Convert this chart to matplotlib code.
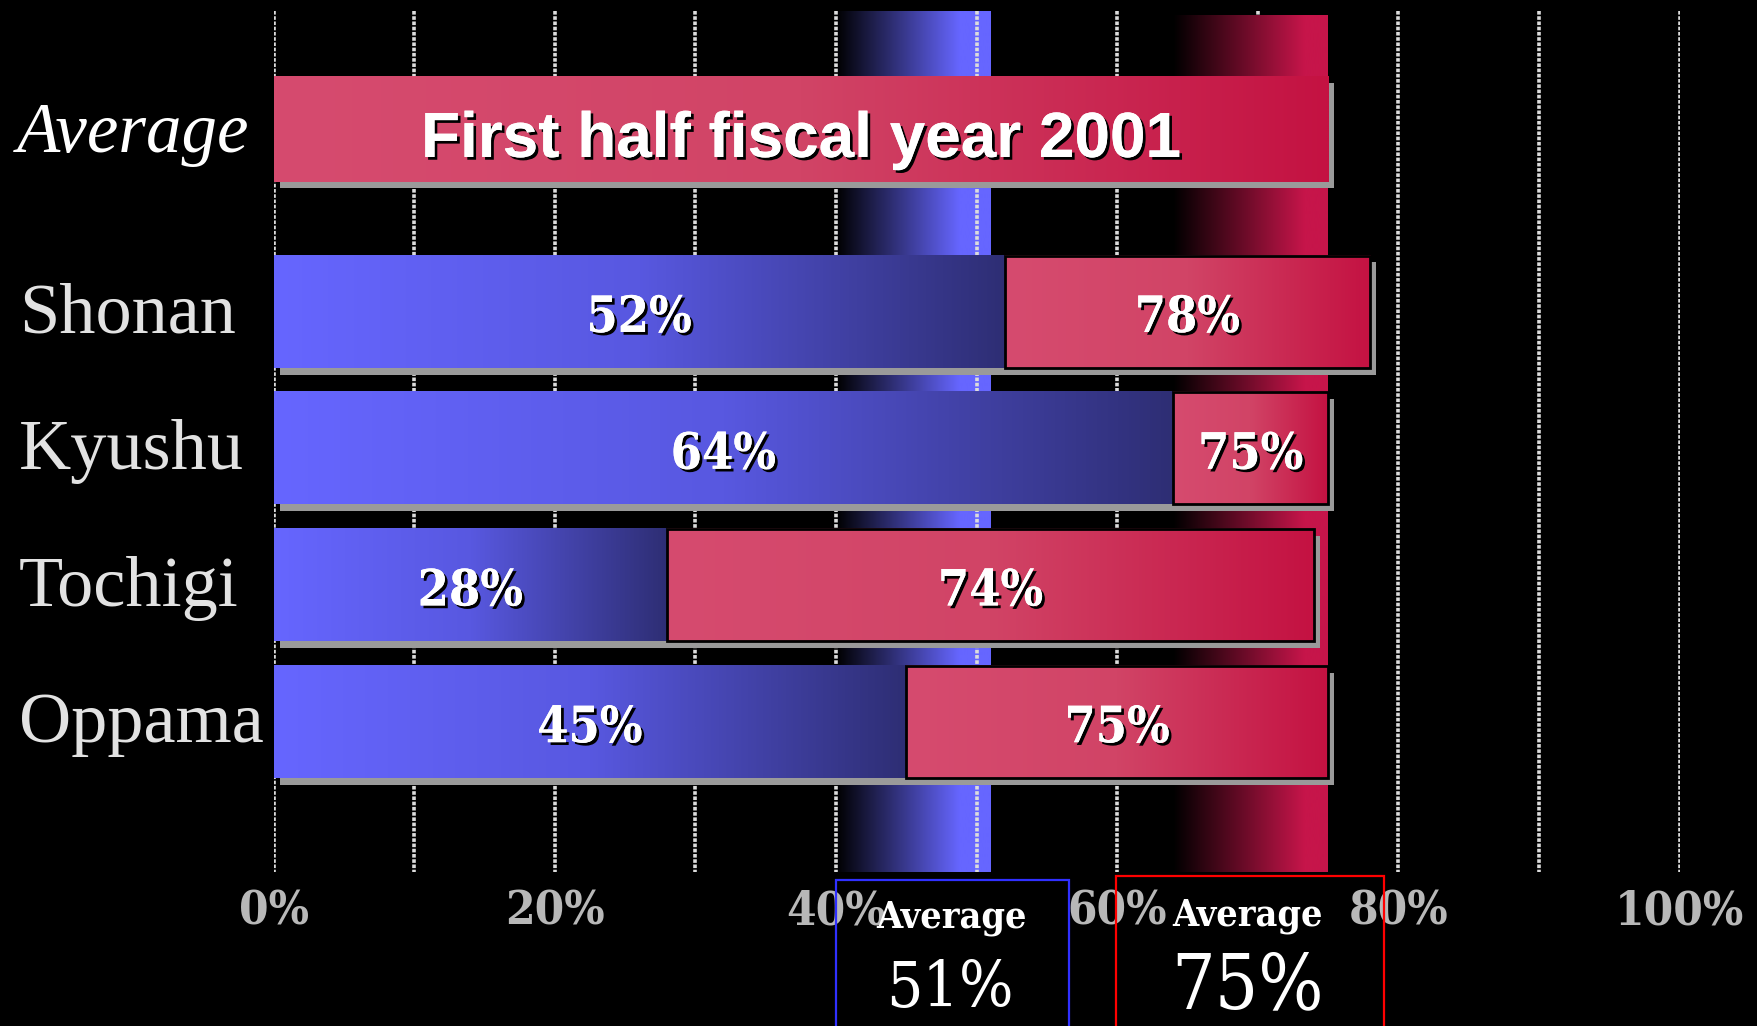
import numpy as np
import matplotlib
matplotlib.use("Agg")
import matplotlib.pyplot as plt
from matplotlib.colors import LinearSegmentedColormap
from matplotlib.patches import Rectangle
import matplotlib.patheffects as pe
import matplotlib.transforms as mtransforms

# ---- data ----
plants = ["Shonan", "Kyushu", "Tochigi", "Oppama"]
blue_vals = [52, 64, 28, 45]
red_vals = [78, 75, 74, 75]
avg_blue = 51
avg_red = 75
avg_label = "Average"
title_text = "First half fiscal year 2001"
tick_vals = [0, 20, 40, 60, 80, 100]
tick_labels = ["0%", "20%", "40%", "60%", "80%", "100%"]

# ---- figure / axes ----
W, H = 1758, 1026
fig = plt.figure(figsize=(W / 100, H / 100), dpi=100, facecolor="black")
ax = fig.add_axes([273.6 / W, 1 - 872 / H, 1406 / W, (872 - 11.2) / H])
ax.set_facecolor("black")

Y_TOP, Y_BOT = -0.861, 5.434
avg_y = 0.0
row_y = [1.336 + i for i in range(len(plants))]
bar_h = 0.82
avg_h = 0.77
sdx, sdy = 0.43, 0.05          # drop-shadow offset (x in %, y in row units)

SERIF_C = dict(family="DejaVu Serif", stretch="condensed")

blue_bar_cmap = LinearSegmentedColormap.from_list("bb", ["#6666ff", "#5858e0", "#2e2e74"])
red_bar_cmap = LinearSegmentedColormap.from_list("rb", ["#d64b6f", "#d14466", "#c41242"])
blue_band_cmap = LinearSegmentedColormap.from_list(
    "bband", [(0, "#000000"), (0.8, "#6666ff"), (1, "#6666ff")])
red_band_cmap = LinearSegmentedColormap.from_list(
    "rband", [(0, "#000000"), (0.85, "#c6154a"), (1, "#c6154a")])

grad = np.linspace(0, 1, 512).reshape(1, -1)


def hgrad(x0, x1, y0, y1, cmap, z):
    ax.imshow(grad, cmap=cmap, extent=[x0, x1, y1, y0], aspect="auto",
              interpolation="bilinear", zorder=z)


def shadow(x0, x1, yc, h):
    ax.add_patch(Rectangle((x0 + sdx, yc - h / 2 + sdy), x1 - x0, h,
                           facecolor="#9a9a9a", edgecolor="none", zorder=4))


label_fx = [pe.withSimplePatchShadow(offset=(2, -2), shadow_rgbFace="black", alpha=1.0),
            pe.Normal()]

# average bands behind the bars
hgrad(avg_blue - 11, avg_blue, Y_TOP, Y_BOT, blue_band_cmap, 1)
hgrad(avg_red - 11, avg_red, Y_TOP + 0.03, Y_BOT, red_band_cmap, 3)

# dotted vertical gridlines
ax.vlines(np.arange(0, 101, 10), Y_TOP, Y_BOT, colors="#dcdcdc",
          linestyles=(0, (1.0, 0.45)), linewidth=2.6, zorder=2)

# overall average bar
shadow(0, avg_red, avg_y, avg_h)
hgrad(0, avg_red, avg_y - avg_h / 2, avg_y + avg_h / 2, red_bar_cmap, 5)
ax.text(avg_red / 2, avg_y + 0.205, title_text, ha="center", va="baseline",
        color="white", fontsize=46, fontweight="bold", family="Liberation Sans",
        path_effects=label_fx, zorder=8)

# per-plant stacked bars
for y, b, r in zip(row_y, blue_vals, red_vals):
    shadow(0, b, y, bar_h)
    shadow(b, r, y, bar_h)
    hgrad(0, b, y - bar_h / 2, y + bar_h / 2, blue_bar_cmap, 5)
    hgrad(b, r, y - bar_h / 2, y + bar_h / 2, red_bar_cmap, 5)
    ax.add_patch(Rectangle((b, y - bar_h / 2), r - b, bar_h, fill=False,
                           edgecolor="black", linewidth=2, zorder=6))
    ax.text(b / 2, y + 0.05, f"{b}%", ha="center", va="center", color="white",
            fontsize=36, fontweight="bold", path_effects=label_fx, zorder=8, **SERIF_C)
    ax.text((b + r) / 2, y + 0.05, f"{r}%", ha="center", va="center", color="white",
            fontsize=36, fontweight="bold", path_effects=label_fx, zorder=8, **SERIF_C)

# row labels on the left
lab_tr = mtransforms.blended_transform_factory(fig.transFigure, ax.transData)
ax.text(17 / W, avg_y + 0.17, avg_label, transform=lab_tr, ha="left", va="baseline",
        color="white", fontsize=51, fontstyle="italic", family="Liberation Serif",
        clip_on=False)
for y, name in zip(row_y, plants):
    ax.text(19 / W, y + 0.15, name, transform=lab_tr, ha="left", va="baseline",
            color="#e2e2e2", fontsize=52, family="Liberation Serif", clip_on=False)

# axis
ax.set_xlim(0, 100)
ax.set_ylim(Y_BOT, Y_TOP)
ax.set_xticks(tick_vals)
ax.set_xticklabels(tick_labels, fontsize=34, fontweight="bold", color="#b8b8b8", **SERIF_C)
ax.tick_params(axis="x", length=0, pad=12)
ax.set_yticks([])
for s in ax.spines.values():
    s.set_visible(False)


# average boxes below the axis
def fig_box(x0, y0, x1, y1, color):
    fig.add_artist(Rectangle((x0 / W, 1 - y1 / H), (x1 - x0) / W, (y1 - y0) / H,
                             transform=fig.transFigure, fill=False,
                             edgecolor=color, linewidth=1.6, zorder=10))


fig_box(836, 880, 1069, 1040, "#3030ff")
fig_box(1115.5, 875.5, 1383.5, 1040, "#ff0000")
fig.text(952 / W, 1 - 917 / H, avg_label, ha="center", va="center", color="white",
         fontsize=27, fontweight="bold", zorder=11, **SERIF_C)
fig.text(950 / W, 1 - 989 / H, f"{avg_blue}%", ha="center", va="center", color="white",
         fontsize=46, zorder=11, **SERIF_C)
fig.text(1247 / W, 1 - 915 / H, avg_label, ha="center", va="center", color="white",
         fontsize=27, fontweight="bold", zorder=11, **SERIF_C)
fig.text(1248 / W, 1 - 987 / H, f"{avg_red}%", ha="center", va="center", color="white",
         fontsize=55, zorder=11, **SERIF_C)

fig.savefig("out.png", dpi=100, facecolor="black")
